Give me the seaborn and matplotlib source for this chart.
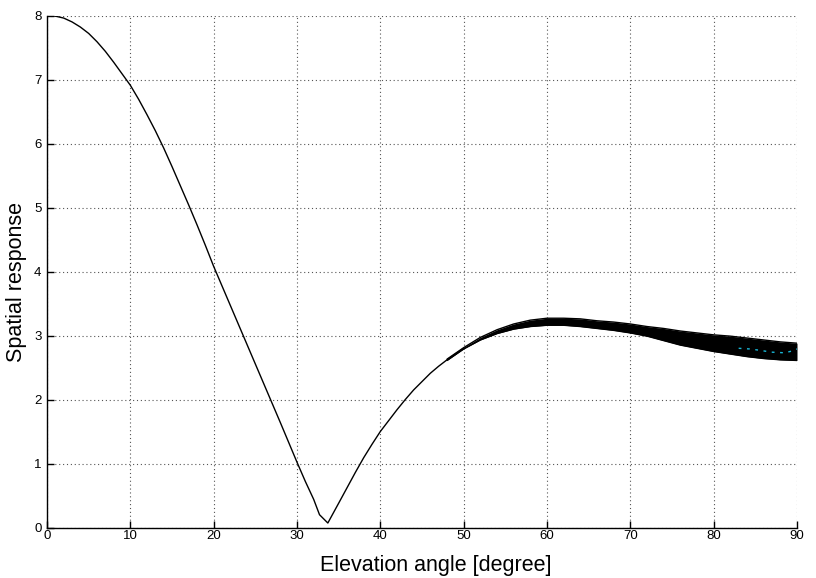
import numpy as np
import pandas as pd
import matplotlib
matplotlib.use("Agg")
import matplotlib.pyplot as plt
import seaborn as sns

# Main (single) response curve
main_x = [0, 1, 2, 3, 4, 5, 6, 7, 8, 9, 10, 11, 12, 13, 14, 15, 16, 17, 18, 19, 20,
          22, 24, 26, 28, 30, 31, 32, 32.7, 33.7,
          35, 36, 37, 38, 39, 40, 41, 42, 43, 44, 45, 46, 47, 48, 49, 50]
main_y = [8.0, 7.99, 7.96, 7.9, 7.82, 7.72, 7.59, 7.44, 7.27, 7.09, 6.91, 6.69, 6.45,
          6.2, 5.93, 5.64, 5.34, 5.04, 4.73, 4.41, 4.08,
          3.47, 2.86, 2.25, 1.64, 1.02, 0.72, 0.44, 0.2, 0.07,
          0.38, 0.62, 0.86, 1.09, 1.3, 1.5, 1.67, 1.84, 2.0, 2.15, 2.28, 2.41, 2.52,
          2.62, 2.71, 2.8]

# Band of overlapping responses (upper / lower envelope)
band_x = [48, 50, 52, 54, 56, 58, 60, 62, 64, 66, 68, 70, 72, 74, 76, 78, 80, 82, 84,
          86, 88, 90]
band_upper = [2.63, 2.81, 2.97, 3.09, 3.18, 3.24, 3.27, 3.27, 3.26, 3.23, 3.21, 3.18,
              3.14, 3.11, 3.07, 3.04, 3.01, 2.99, 2.96, 2.93, 2.9, 2.88]
band_lower = [2.61, 2.79, 2.93, 3.03, 3.1, 3.14, 3.16, 3.16, 3.14, 3.11, 3.08, 3.04,
              2.99, 2.92, 2.85, 2.8, 2.75, 2.71, 2.67, 2.64, 2.62, 2.61]

# Cyan trace partly visible inside the band
cyan_x = [83, 84.3, 85.5, 86.9, 88.5, 89.5, 90]
cyan_y = [2.80, 2.79, 2.77, 2.74, 2.73, 2.76, 2.79]

x_ticks = [0, 10, 20, 30, 40, 50, 60, 70, 80, 90]
y_ticks = [0, 1, 2, 3, 4, 5, 6, 7, 8]

sns.set_style("white")
plt.rcParams['font.family'] = ['Liberation Sans', 'DejaVu Sans']
plt.rcParams['text.color'] = 'black'
plt.rcParams['axes.labelcolor'] = 'black'

fig = plt.figure(figsize=(8.16, 5.78), dpi=100)
ax = fig.add_axes([47 / 816, 1 - 527.5 / 578, 750 / 816, 512 / 578])

main_df = pd.DataFrame({"x": main_x, "y": main_y})
band_df = pd.DataFrame({"x": band_x, "upper": band_upper, "lower": band_lower})
cyan_df = pd.DataFrame({"x": cyan_x, "y": cyan_y})

sns.lineplot(data=main_df, x="x", y="y", ax=ax, color="black", lw=1.0)
ax.fill_between(band_df["x"], band_df["lower"], band_df["upper"], color="black", lw=0)
sns.lineplot(data=band_df, x="x", y="upper", ax=ax, color="black", lw=1.0)
sns.lineplot(data=band_df, x="x", y="lower", ax=ax, color="black", lw=1.0)
sns.lineplot(data=cyan_df, x="x", y="y", ax=ax, color="#19b8d8", lw=1.0,
             linestyle=(0, (2, 4)))

ax.set_xlim(0, 90)
ax.set_ylim(0, 8)
ax.set_xticks(x_ticks)
ax.set_yticks(y_ticks)
ax.set_xticklabels([str(t) for t in x_ticks])
ax.set_yticklabels([str(t) for t in y_ticks])

ax.grid(True, color="#555555", linestyle=(0, (1, 2.5)), lw=0.8)
ax.set_axisbelow(True)
for s in ["top", "right"]:
    ax.spines[s].set_visible(False)
for s in ["left", "bottom"]:
    ax.spines[s].set_color("black")
    ax.spines[s].set_linewidth(1.0)

ax.tick_params(axis="both", direction="in", length=5, width=1, colors="black",
               labelcolor="black", labelsize=9.5, left=True, bottom=True)
ax.tick_params(axis="x", pad=2)
ax.tick_params(axis="y", pad=4)

ax.set_xlabel("Elevation angle [degree]", fontsize=15.5, color="black")
ax.set_ylabel("Spatial response", fontsize=15.5, color="black")
ax.xaxis.set_label_coords((435.5 - 47) / 750, (527.5 - 566) / 512)
ax.xaxis.label.set_va("center")
ax.yaxis.set_label_coords((17 - 47) / 750, (527.5 - 281.5) / 512)
ax.yaxis.label.set_va("center")

fig.savefig("out.png", dpi=100)
